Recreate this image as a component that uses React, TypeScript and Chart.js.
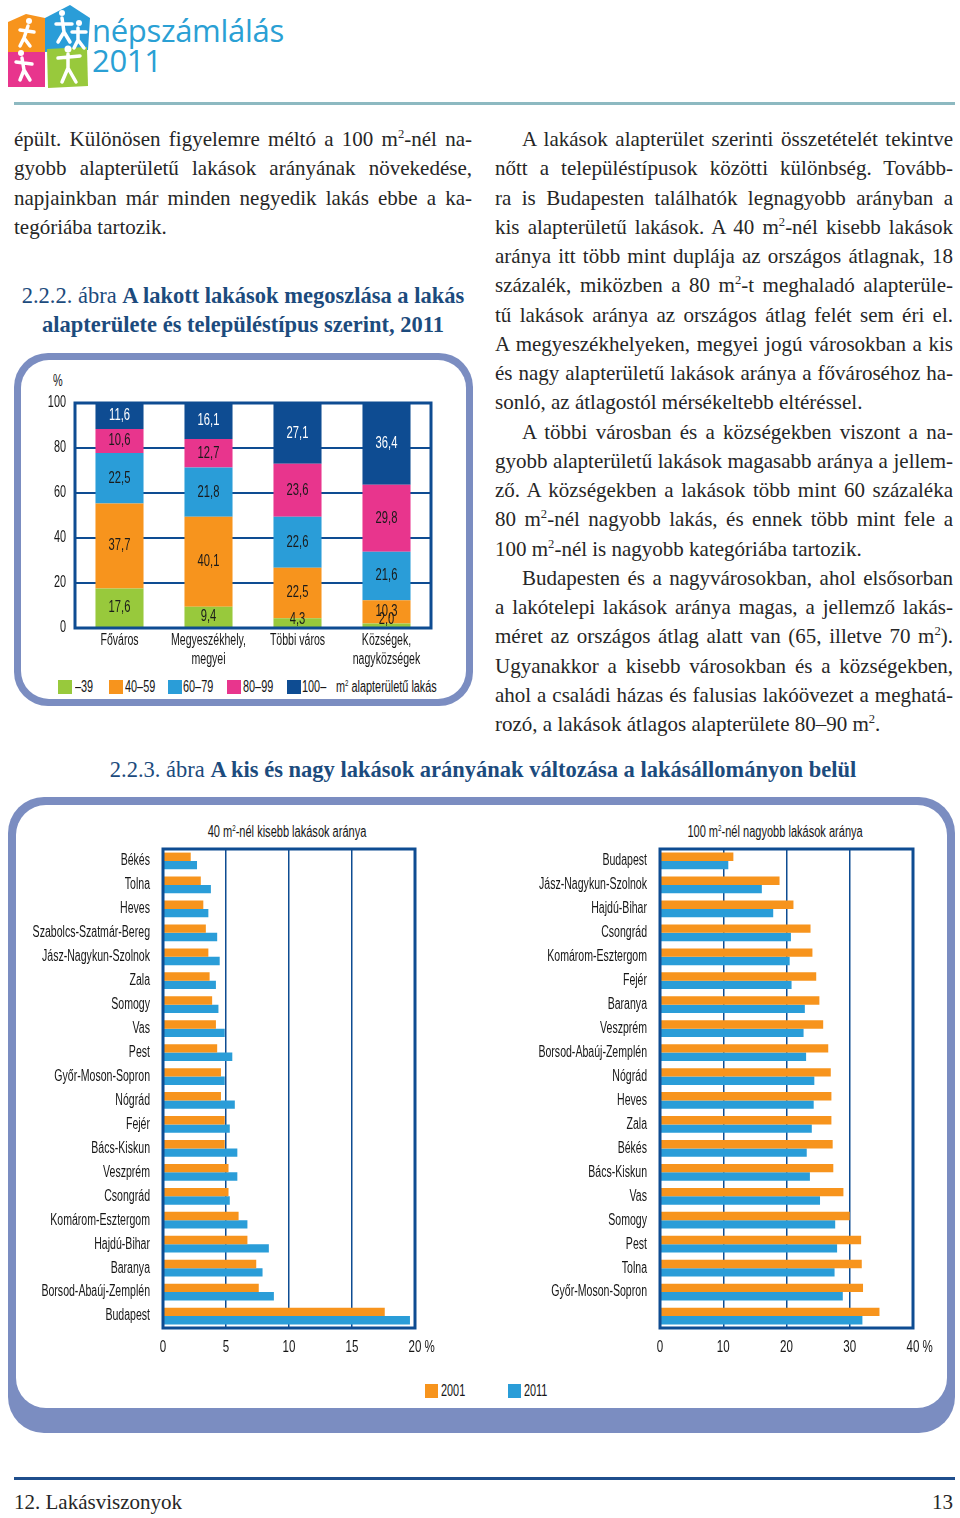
import React, { useEffect, useRef } from "react";
import { Chart, registerables } from "chart.js";
Chart.register(...registerables);

// ---------- DATA ----------
const typeLabels = [["Főváros"], ["Megyeszékhely,", "megyei"], ["Többi város"], ["Községek,", "nagyközségek"]];
const areaUnder40 = [17.6, 9.4, 4.3, 2.0];
const area40to59 = [37.7, 40.1, 22.5, 10.3];
const area60to79 = [22.5, 21.8, 22.6, 21.6];
const area80to99 = [10.6, 12.7, 23.6, 29.8];
const area100plus = [11.6, 16.1, 27.1, 36.4];
const areaLegend = ["–39", "40–59", "60–79", "80–99", "100–"];
const pctTicks = [0, 20, 40, 60, 80, 100];

const smallCounties = ["Békés", "Tolna", "Heves", "Szabolcs-Szatmár-Bereg", "Jász-Nagykun-Szolnok", "Zala", "Somogy", "Vas", "Pest", "Győr-Moson-Sopron", "Nógrád", "Fejér", "Bács-Kiskun", "Veszprém", "Csongrád", "Komárom-Esztergom", "Hajdú-Bihar", "Baranya", "Borsod-Abaúj-Zemplén", "Budapest"];
const small2001 = [2.2, 3.0, 3.2, 3.4, 3.6, 3.7, 3.9, 4.2, 4.3, 4.6, 4.6, 4.9, 4.9, 5.2, 5.2, 6.0, 6.7, 7.4, 7.6, 17.6];
const small2011 = [2.7, 3.8, 3.6, 4.3, 4.5, 4.2, 4.4, 4.9, 5.5, 4.9, 5.7, 5.3, 5.9, 5.9, 5.3, 6.7, 8.4, 7.9, 8.8, 19.6];

const largeCounties = ["Budapest", "Jász-Nagykun-Szolnok", "Hajdú-Bihar", "Csongrád", "Komárom-Esztergom", "Fejér", "Baranya", "Veszprém", "Borsod-Abaúj-Zemplén", "Nógrád", "Heves", "Zala", "Békés", "Bács-Kiskun", "Vas", "Somogy", "Pest", "Tolna", "Győr-Moson-Sopron", ""];
const large2001 = [11.6, 18.9, 21.1, 23.8, 24.1, 24.7, 25.2, 25.8, 26.6, 27.0, 27.1, 27.1, 27.3, 27.4, 29.0, 30.0, 31.8, 31.9, 32.1, 34.7];
const large2011 = [10.8, 16.1, 17.9, 20.7, 20.5, 20.8, 22.9, 22.7, 23.1, 24.4, 24.3, 24.0, 23.2, 23.7, 25.3, 27.7, 28.0, 27.6, 28.9, 32.0];
const yearLegend = ["2001", "2011"];

// ---------- STYLE ----------
const NAVY = "#0E4C92";
const GREEN = "#98C93C";
const ORANGE = "#F7941D";
const BLUE = "#2A9DD8";
const PINK = "#E8358D";
const FRAME = "#7B8DC1";
const TXT = "#161616";
const SANS = '"Liberation Sans", Arial, sans-serif';
const SERIF = '"Liberation Serif", "DejaVu Serif", serif';
const SX = 0.68;
const areaColors = [GREEN, ORANGE, BLUE, PINK, NAVY];
const yearColors = [ORANGE, BLUE];

Chart.defaults.font.family = SANS;

function narrow(ctx: any, text: string, x: number, y: number, align: string, size: number, color = TXT, sx = SX) {
  ctx.save();
  ctx.font = size + "px " + SANS;
  ctx.fillStyle = color;
  ctx.textBaseline = "middle";
  ctx.textAlign = align;
  ctx.translate(x, y);
  ctx.scale(sx, 1);
  ctx.fillText(text, 0, 0);
  ctx.restore();
}
function narrowWidth(ctx: any, text: string, size: number, sx = SX) {
  ctx.save();
  ctx.font = size + "px " + SANS;
  const w = ctx.measureText(text).width * sx;
  ctx.restore();
  return w;
}

const framePlugin = {
  id: "frameRect",
  afterDatasetsDraw(chart: any) {
    const { ctx, chartArea } = chart;
    ctx.save();
    ctx.strokeStyle = NAVY;
    ctx.lineWidth = 3;
    ctx.strokeRect(chartArea.left, chartArea.top, chartArea.right - chartArea.left, chartArea.bottom - chartArea.top);
    ctx.restore();
  },
};

const stackLabelPlugin = {
  id: "stackLabels",
  afterDraw(chart: any) {
    const { ctx, chartArea } = chart;
    chart.data.datasets.forEach((ds: any, i: number) => {
      const meta = chart.getDatasetMeta(i);
      meta.data.forEach((el: any, j: number) => {
        const p = el.getProps(["x", "y", "base"], true);
        let cy = (p.y + p.base) / 2;
        cy = Math.min(cy, p.base - 7);
        narrow(ctx, ds.data[j].toFixed(1).replace(".", ","), p.x, cy, "center", 16, i === 4 ? "#fff" : "#1a1a1a", 0.7);
      });
    });
    const ys = chart.scales.y;
    ys.ticks.forEach((t: any) => {
      narrow(ctx, String(t.value), chartArea.left - 9, ys.getPixelForValue(t.value), "right", 16);
    });
    const xs = chart.scales.x;
    typeLabels.forEach((lines, i) => {
      const px = xs.getPixelForTick(i);
      lines.forEach((ln, k) => narrow(ctx, ln, px, chartArea.bottom + 13 + k * 19, "center", 16, TXT, 0.66));
    });
  },
};

function StackedChart() {
  const ref = useRef<HTMLCanvasElement>(null);
  useEffect(() => {
    const series = [areaUnder40, area40to59, area60to79, area80to99, area100plus];
    const chart = new Chart(ref.current!, {
      type: "bar",
      data: {
        labels: typeLabels.map((l) => l.join(" ")),
        datasets: series.map((d, i) => ({
          label: areaLegend[i],
          data: d,
          backgroundColor: areaColors[i],
          borderWidth: 0,
          barPercentage: 0.54,
          categoryPercentage: 1,
        })),
      },
      options: {
        animation: false,
        responsive: false,
        layout: { padding: { top: 33, right: 29, left: 0, bottom: 0 } },
        plugins: { legend: { display: false }, tooltip: { enabled: false } },
        scales: {
          x: {
            stacked: true,
            grid: { display: false },
            border: { display: false },
            ticks: { display: false },
            afterFit: (s: any) => { s.height = 42; s.paddingLeft = 0; s.paddingRight = 0; },
          },
          y: {
            stacked: true,
            min: 0,
            max: 100,
            afterBuildTicks: (s: any) => { s.ticks = pctTicks.map((v) => ({ value: v })); },
            ticks: { display: false },
            grid: { color: NAVY, lineWidth: 2, drawTicks: false },
            border: { display: false },
            afterFit: (s: any) => { s.width = 55; s.paddingTop = 0; s.paddingBottom = 0; },
          },
        },
      } as any,
      plugins: [framePlugin, stackLabelPlugin],
    });
    return () => chart.destroy();
  }, []);
  return <canvas ref={ref} width={440} height={300} style={{ position: "absolute", left: 20, top: 370 }} />;
}

function HBarChart(props: { labels: string[]; a: number[]; b: number[]; max: number; step: number; left: number; yWidth: number; rightPad: number }) {
  const ref = useRef<HTMLCanvasElement>(null);
  useEffect(() => {
    const { labels, a, b, max, step, yWidth, rightPad } = props;
    const labelPlugin = {
      id: "hLabels",
      afterDraw(chart: any) {
        const { ctx, chartArea } = chart;
        const ys = chart.scales.y;
        labels.forEach((l, i) => narrow(ctx, l, chartArea.left - 13, ys.getPixelForTick(i), "right", 16, TXT, 0.66));
        const xs = chart.scales.x;
        xs.ticks.forEach((t: any) => {
          const px = xs.getPixelForValue(t.value);
          const s = String(t.value);
          narrow(ctx, s, px, chartArea.bottom + 19, "center", 17);
          if (t.value === max) {
            narrow(ctx, "%", px + narrowWidth(ctx, s, 17) / 2 + 3, chartArea.bottom + 19, "left", 17);
          }
        });
      },
    };
    const chart = new Chart(ref.current!, {
      type: "bar",
      data: {
        labels,
        datasets: [a, b].map((d, i) => ({
          label: yearLegend[i],
          data: d,
          backgroundColor: yearColors[i],
          borderWidth: 0,
          barPercentage: 1,
          categoryPercentage: 0.7,
        })),
      },
      options: {
        indexAxis: "y",
        animation: false,
        responsive: false,
        layout: { padding: { top: 9, right: rightPad, left: 0, bottom: 0 } },
        plugins: { legend: { display: false }, tooltip: { enabled: false } },
        scales: {
          y: {
            grid: { display: false },
            border: { display: false },
            ticks: { display: false },
            afterFit: (s: any) => { s.width = yWidth; s.paddingTop = 0; s.paddingBottom = 0; },
          },
          x: {
            min: 0,
            max,
            ticks: { stepSize: step, display: false },
            grid: { color: NAVY, lineWidth: 1.5, drawTicks: false },
            border: { display: false },
            afterFit: (s: any) => { s.height = 32; s.paddingLeft = 0; s.paddingRight = 0; },
          },
        },
      } as any,
      plugins: [framePlugin, labelPlugin],
    });
    return () => chart.destroy();
  }, []);
  return <canvas ref={ref} width={440} height={520} style={{ position: "absolute", left: props.left, top: 840 }} />;
}

// narrow HTML text
function N(props: { children: any; left?: number; top: number; width?: number; center?: boolean; size?: number; sx?: number }) {
  const size = props.size || 16;
  const sx = props.sx || SX;
  if (props.center) {
    return (
      <div style={{ position: "absolute", left: props.left, top: props.top, width: props.width, textAlign: "center", whiteSpace: "nowrap", lineHeight: "16px" }}>
        <span style={{ display: "inline-block", transform: `scaleX(${sx})`, transformOrigin: "center", fontFamily: SANS, fontSize: size, color: TXT }}>{props.children}</span>
      </div>
    );
  }
  return (
    <div style={{ position: "absolute", left: props.left, top: props.top, whiteSpace: "nowrap", transform: `scaleX(${sx})`, transformOrigin: "left center", fontFamily: SANS, fontSize: size, color: TXT, lineHeight: "16px" }}>
      {props.children}
    </div>
  );
}
const supS = <sup style={{ fontSize: 9, lineHeight: 0 }}>2</sup>;

const J = (text: any, last = false, indent = false) => ({ text, last, indent });
const sup2 = <sup style={{ fontSize: "0.6em", lineHeight: 0 }}>2</sup>;
const leftLines = [
  J(<>épült. Különösen figyelemre méltó a 100 m{sup2}-nél na-</>),
  J("gyobb alapterületű lakások arányának növekedése,"),
  J("napjainkban már minden negyedik lakás ebbe a ka-"),
  J("tegóriába tartozik.", true),
];
const rightLines = [
  J("A lakások alapterület szerinti összetételét tekintve", false, true),
  J("nőtt a településtípusok közötti különbség. Tovább-"),
  J("ra is Budapesten találhatók legnagyobb arányban a"),
  J(<>kis alapterületű lakások. A 40 m{sup2}-nél kisebb lakások</>),
  J("aránya itt több mint duplája az országos átlagnak, 18"),
  J(<>százalék, miközben a 80 m{sup2}-t meghaladó alapterüle-</>),
  J("tű lakások aránya az országos átlag felét sem éri el."),
  J("A megyeszékhelyeken, megyei jogú városokban a kis"),
  J("és nagy alapterületű lakások aránya a fővároséhoz ha-"),
  J("sonló, az átlagostól mérsékeltebb eltéréssel.", true),
  J("A többi városban és a községekben viszont a na-", false, true),
  J("gyobb alapterületű lakások magasabb aránya a jellem-"),
  J("ző. A községekben a lakások több mint 60 százaléka"),
  J(<>80 m{sup2}-nél nagyobb lakás, és ennek több mint fele a</>),
  J(<>100 m{sup2}-nél is nagyobb kategóriába tartozik.</>, true),
  J("Budapesten és a nagyvárosokban, ahol elsősorban", false, true),
  J("a lakótelepi lakások aránya magas, a jellemző lakás-"),
  J(<>méret az országos átlag alatt van (65, illetve 70 m{sup2}).</>),
  J("Ugyanakkor a kisebb városokban és a községekben,"),
  J("ahol a családi házas és falusias lakóövezet a meghatá-"),
  J(<>rozó, a lakások átlagos alapterülete 80–90 m{sup2}.</>, true),
];

function TextBlock(props: { lines: any[]; left: number; top: number; width: number }) {
  return (
    <div style={{ position: "absolute", left: props.left, top: props.top, width: props.width, fontFamily: SERIF, fontSize: 21, lineHeight: "29.25px", color: "#262626" }}>
      {props.lines.map((l, i) => (
        <div
          key={i}
          style={{
            textAlign: l.last ? "left" : "justify",
            textAlignLast: l.last ? "left" : "justify",
            paddingLeft: l.indent ? 27 : 0,
            height: 29.25,
          } as any}
        >
          {l.text}
        </div>
      ))}
    </div>
  );
}

function Logo() {
  return (
    <div style={{ position: "absolute", left: 0, top: 0 }}>
      <svg width={92} height={92} style={{ position: "absolute", left: 4, top: 2 }}>
        <polygon points="4,20 22,12 41,16 41,50 4,50" fill={ORANGE} />
        <polygon points="41,16 66,3 86,16 84,48 41,50" fill={BLUE} />
        <rect x={4} y={50} width={37} height={35} fill={PINK} />
        <polygon points="43,47 83,45 84,84 44,86" fill={GREEN} />
        <g stroke="#fff" strokeWidth={3.5} strokeLinecap="round" fill="none">
          <path d="M24 24 L20 36 M16 28 L30 30 M20 36 L16 44 M20 36 L26 44" />
          <path d="M58 16 L60 30 M52 22 L68 22 M60 30 L54 40 M60 30 L66 40" />
          <path d="M74 26 L74 38 M68 30 L82 30 M74 38 L70 46 M74 38 L80 46" />
          <path d="M18 56 L20 68 M12 60 L28 62 M20 68 L16 78 M20 68 L26 78" />
          <path d="M64 52 L64 66 M54 56 L76 54 M64 66 L58 80 M64 66 L72 80" />
        </g>
        <g fill="#fff">
          <circle cx={25} cy={19} r={3} />
          <circle cx={58} cy={11} r={3} />
          <circle cx={75} cy={21} r={3} />
          <circle cx={17} cy={51} r={3} />
          <circle cx={64} cy={47} r={3.5} />
        </g>
      </svg>
      <div style={{ position: "absolute", left: 92, top: 15, fontFamily: '"Open Sans", "Noto Sans", sans-serif', fontWeight: 500, fontSize: 31, color: "#2AA0D4", lineHeight: "30px", letterSpacing: -0.3 }}>
        népszámlálás
        <br />
        2011
      </div>
    </div>
  );
}

export default function App() {
  const sqX1 = [58, 109, 168, 227, 287];
  const txX1 = [75, 125, 183, 243, 302];
  return (
    <div style={{ position: "absolute", left: 0, top: 0, width: 960, height: 1518, background: "#fff", overflow: "hidden", fontFamily: SERIF }}>
      <Logo />
      <div style={{ position: "absolute", left: 14, top: 102, width: 941, height: 3, background: "#8DB9C1" }} />

      <TextBlock lines={leftLines} left={14} top={125} width={458} />
      <TextBlock lines={rightLines} left={495} top={125} width={458} />

      <div style={{ position: "absolute", left: 4, top: 281, width: 478, textAlign: "center", color: "#1C4B7D", fontSize: 22.5, lineHeight: "29px", fontFamily: SERIF }}>
        2.2.2. ábra <b>A lakott lakások megoszlása a lakás alapterülete és településtípus szerint, 2011</b>
      </div>

      {/* frame 1 */}
      <div style={{ position: "absolute", left: 14, top: 353, width: 459, height: 353, background: FRAME, borderRadius: 34 }} />
      <div style={{ position: "absolute", left: 21, top: 360, width: 445, height: 339, background: "#fff", borderRadius: 28 }} />
      <N left={53} top={373}>%</N>
      <StackedChart />
      {areaLegend.map((t, i) => (
        <React.Fragment key={i}>
          <div style={{ position: "absolute", left: sqX1[i], top: 680, width: 14, height: 14, background: areaColors[i] }} />
          <N left={txX1[i]} top={679}>{t}</N>
        </React.Fragment>
      ))}
      <N left={336} top={679}>m{supS} alapterületű lakás</N>

      <div style={{ position: "absolute", left: 0, top: 755, width: 966, textAlign: "center", color: "#1C4B7D", fontSize: 22.5, lineHeight: "29px", fontFamily: SERIF, whiteSpace: "nowrap" }}>
        2.2.3. ábra <b>A kis és nagy lakások arányának változása a lakásállományon belül</b>
      </div>

      {/* frame 2 */}
      <div style={{ position: "absolute", left: 8, top: 797, width: 947, height: 636, background: FRAME, borderRadius: 36 }} />
      <div style={{ position: "absolute", left: 16, top: 805, width: 931, height: 603, background: "#fff", borderRadius: 30 }} />
      <N center left={137} width={300} top={824} sx={0.69}>40 m{supS}-nél kisebb lakások aránya</N>
      <N center left={625} width={300} top={824} sx={0.69}>100 m{supS}-nél nagyobb lakások aránya</N>
      <HBarChart labels={smallCounties} a={small2001} b={small2011} max={20} step={5} left={20} yWidth={143} rightPad={45} />
      <HBarChart labels={largeCounties} a={large2001} b={large2011} max={40} step={10} left={520} yWidth={140} rightPad={47} />
      {yearLegend.map((t, i) => (
        <React.Fragment key={i}>
          <div style={{ position: "absolute", left: [425, 508][i], top: 1384, width: 13, height: 14, background: yearColors[i] }} />
          <N left={[441, 524][i]} top={1383}>{t}</N>
        </React.Fragment>
      ))}

      <div style={{ position: "absolute", left: 14, top: 1477, width: 941, height: 3, background: "#1F4E8C" }} />
      <div style={{ position: "absolute", left: 14, top: 1490, fontFamily: SERIF, fontSize: 21, color: "#262626" }}>12. Lakásviszonyok</div>
      <div style={{ position: "absolute", right: 7, top: 1490, fontFamily: SERIF, fontSize: 21, color: "#262626" }}>13</div>
    </div>
  );
}
